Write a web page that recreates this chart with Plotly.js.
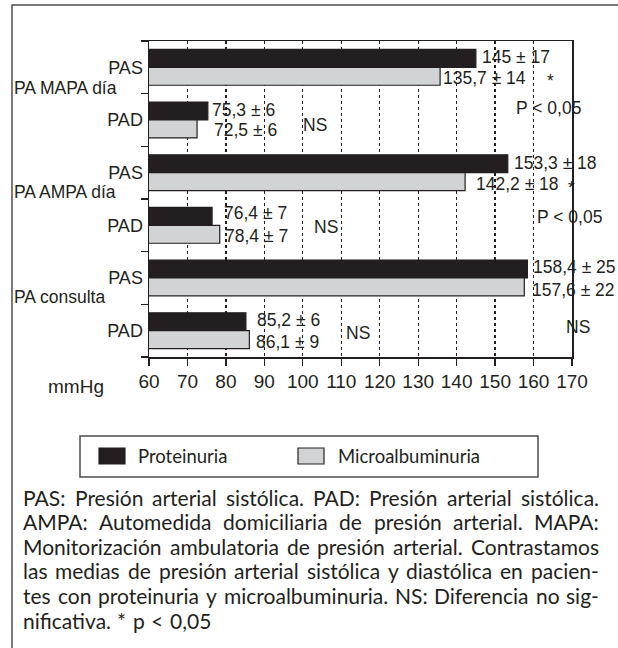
<!DOCTYPE html>
<html>
<head>
<meta charset="utf-8">
<script src="https://cdn.plot.ly/plotly-3.0.1.min.js"></script>
<style>
  html, body { margin: 0; padding: 0; background: #ffffff; }
  #chart { width: 618px; height: 648px; }
</style>
</head>
<body>
<div id="chart"></div>
<script>
// ---------------- DATA ----------------
const categories = ["MAPA-PAS", "MAPA-PAD", "AMPA-PAS", "AMPA-PAD", "CONS-PAS", "CONS-PAD"];
const tickLabels = ["PAS", "PAD", "PAS", "PAD", "PAS", "PAD"];
const groupLabels = ["PA MAPA día", "PA AMPA día", "PA consulta"];
const seriesNames = ["Proteinuria", "Microalbuminuria"];
const proteinuriaMean = [145, 75.3, 153.3, 76.4, 158.4, 85.2];
const proteinuriaSD   = [17, 6, 18, 7, 25, 6];
const microMean       = [135.7, 72.5, 142.2, 78.4, 157.6, 86.1];
const microSD         = [14, 6, 18, 7, 22, 9];
const xTicks = [60, 70, 80, 90, 100, 110, 120, 130, 140, 150, 160, 170];
const axisUnit = "mmHg";
const captionLines = [
  "PAS: Presión arterial sistólica. PAD: Presión arterial sistólica.",
  "AMPA: Automedida domiciliaria de presión arterial. MAPA:",
  "Monitorización ambulatoria de presión arterial. Contrastamos",
  "las medias de presión arterial sistólica y diastólica en pacien-",
  "tes con proteinuria y microalbuminuria. NS: Diferencia no sig-",
  "nificativa. * p < 0,05"
];

// ---------------- STYLE / LAYOUT ----------------
const W = 618, H = 648;
const L = 149, R = 572, T = 41, B = 357;
const INK = "#231f20";
const BLACK = "#231f20";
const GREY = "#d1d3d4";
const FONT = "Liberation Sans Narrow, sans-serif";
const CAPFONT = "Lato";
const px = x => (x - L) / (R - L);
const py = y => 1 - (y - T) / (B - T);

function fmt(v) { return String(v).replace(".", ","); }
function esc(s) { return s.replace(/</g, "&lt;"); }

const traces = [
  {
    type: "bar", orientation: "h", name: seriesNames[0],
    y: categories, x: proteinuriaMean,
    marker: { color: BLACK, line: { color: INK, width: 1.2 } },
    hoverinfo: "skip"
  },
  {
    type: "bar", orientation: "h", name: seriesNames[1],
    y: categories, x: microMean,
    marker: { color: GREY, line: { color: INK, width: 1.2 } },
    hoverinfo: "skip"
  }
];

const annotations = [];
const labelFont = { family: FONT, size: 17.5, color: INK };
const bigFont = { family: FONT, size: 17.5, color: INK };

// value labels (position offsets kept separate from data)
const protShift = [5, 3, 5, 11, 5, 10];
const microShift = [2, 16, 10, 4, 7, 6];
const protYShift = [10, 10, 10, 12, 11, 11];
const microYShift = [-11, -10, -11, -11, -12, -11];
categories.forEach((c, i) => {
  annotations.push({
    xref: "x", yref: "y", x: proteinuriaMean[i], y: c,
    text: fmt(proteinuriaMean[i]) + " ± " + proteinuriaSD[i],
    showarrow: false, xanchor: "left", yanchor: "middle", borderpad: 0,
    xshift: protShift[i], yshift: protYShift[i], font: labelFont
  });
  annotations.push({
    xref: "x", yref: "y", x: microMean[i], y: c,
    text: fmt(microMean[i]) + " ± " + microSD[i],
    showarrow: false, xanchor: "left", yanchor: "middle", borderpad: 0,
    xshift: microShift[i], yshift: microYShift[i], font: labelFont
  });
});

// group labels
const groupY = [88, 192, 297];
groupLabels.forEach((g, i) => {
  annotations.push({
    xref: "paper", yref: "paper", x: px(12), y: py(groupY[i]),
    text: g, showarrow: false, xanchor: "left", yanchor: "middle", font: bigFont
  });
});

// significance marks
const sigMarks = [
  { t: "*", x: 546, y: 81 },
  { t: "P < 0,05", x: 515, y: 108 },
  { t: "NS", x: 302, y: 125 },
  { t: "*", x: 567, y: 188 },
  { t: "P < 0,05", x: 536, y: 217 },
  { t: "NS", x: 313, y: 227 },
  { t: "NS", x: 565, y: 327 },
  { t: "NS", x: 345, y: 333 }
];
sigMarks.forEach(m => {
  annotations.push({
    xref: "paper", yref: "paper", x: px(m.x), y: py(m.y),
    text: esc(m.t), showarrow: false, xanchor: "left", yanchor: "middle", borderpad: 0,
    font: labelFont
  });
});

// axis unit
annotations.push({
  xref: "paper", yref: "paper", x: px(46), y: py(386),
  text: axisUnit, showarrow: false, xanchor: "left", yanchor: "middle", font: { family: FONT, size: 19, color: INK }
});

// legend (drawn as shapes + text)
const legendItems = [
  { name: seriesNames[0], color: BLACK, sx: 99, tx: 136 },
  { name: seriesNames[1], color: GREY, sx: 298, tx: 336 }
];
const shapes = [
  { type: "rect", xref: "paper", yref: "paper", x0: px(12), x1: px(630), y0: py(5), y1: py(660),
    line: { color: "#4d4d4f", width: 1.5 }, fillcolor: "rgba(0,0,0,0)" },
  { type: "rect", xref: "paper", yref: "paper", x0: px(80), x1: px(538), y0: py(436), y1: py(477),
    line: { color: "#4d4d4f", width: 1.5 }, fillcolor: "rgba(0,0,0,0)" }
];

// caption: justified lines, words placed from measured widths
const capLeft = 22, capRight = 598, capTop = 497, capStep = 24.6;
const cv = document.createElement("canvas").getContext("2d");
const baseSize = 20;
cv.font = baseSize + "px " + CAPFONT;
let maxNat = 0;
captionLines.slice(0, -1).forEach(l => { maxNat = Math.max(maxNat, cv.measureText(l).width); });
const capSize = Math.min(21, baseSize * (capRight - capLeft) / maxNat);
cv.font = capSize + "px " + CAPFONT;

legendItems.forEach(it => {
  shapes.push({ type: "rect", xref: "paper", yref: "paper",
    x0: px(it.sx), x1: px(it.sx + 26), y0: py(448), y1: py(464),
    line: { color: INK, width: 1.2 }, fillcolor: it.color });
  annotations.push({ xref: "paper", yref: "paper", x: px(it.tx), y: py(456),
    text: it.name, showarrow: false, xanchor: "left", yanchor: "middle",
    font: { family: CAPFONT, size: 18.5, color: INK } });
});

captionLines.forEach((line, li) => {
  const words = line.split(" ");
  const y = capTop + li * capStep;
  const last = li === captionLines.length - 1;
  const widths = words.map(w => cv.measureText(w).width);
  const total = widths.reduce((a, b) => a + b, 0);
  const gap = last ? cv.measureText(" ").width * 1.2 : (capRight - capLeft - total) / (words.length - 1);
  let x = capLeft;
  words.forEach((w, wi) => {
    annotations.push({ xref: "paper", yref: "paper", x: px(x - 1), y: py(y),
      text: esc(w), showarrow: false, xanchor: "left", yanchor: "middle",
      font: { family: CAPFONT, size: capSize, color: INK } });
    x += widths[wi] + gap;
  });
});

const layout = {
  width: W, height: H,
  margin: { l: L, r: W - R, t: T, b: H - B, pad: 0 },
  paper_bgcolor: "#ffffff", plot_bgcolor: "#ffffff",
  showlegend: false,
  barmode: "group", bargap: 0.32, bargroupgap: 0,
  font: { family: FONT, size: 18, color: INK },
  xaxis: {
    range: [60, 170], tickmode: "array", tickvals: xTicks, ticktext: xTicks.map(String),
    ticks: "outside", ticklen: 7, tickwidth: 1.2, tickcolor: INK,
    showline: true, linecolor: INK, linewidth: 1.5, mirror: true,
    showgrid: true, gridcolor: INK, gridwidth: 1.2, griddash: "dot",
    zeroline: false, tickfont: { family: FONT, size: 19, color: INK }, fixedrange: true
  },
  yaxis: {
    type: "category", categoryorder: "array", categoryarray: categories,
    autorange: "reversed", tickmode: "array", tickvals: categories, ticktext: tickLabels,
    tickson: "boundaries", ticks: "outside", ticklen: 7, tickwidth: 1.2, tickcolor: INK,
    showline: true, linecolor: INK, linewidth: 1.5, mirror: true,
    showgrid: false, zeroline: false, ticklabelstandoff: 1,
    tickfont: { family: FONT, size: 18, color: INK }, fixedrange: true
  },
  shapes: shapes,
  annotations: annotations
};

Plotly.newPlot("chart", traces, layout, { staticPlot: true, displayModeBar: false });
</script>
</body>
</html>
